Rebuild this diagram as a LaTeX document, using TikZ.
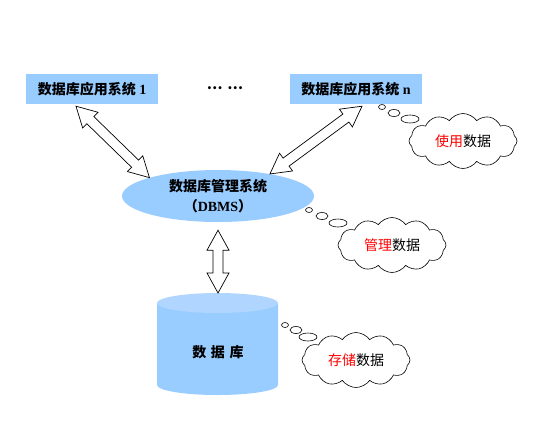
\documentclass[tikz,border=0pt]{standalone}
\usepackage{fontspec}
\setmainfont{Liberation Serif}
\newfontfamily\cjk{Noto Sans CJK SC}
\usetikzlibrary{shapes,shapes.geometric,shapes.symbols,positioning,calc}
\definecolor{boxblue}{RGB}{153,204,255}
\definecolor{dbtopblue}{RGB}{176,214,255}

% hollow double-headed arrow between two points
\newcommand{\hollowarrow}[2]{%
  \draw[harrow] (#1) -- ($(#1)!20pt!(#2)!11pt!90:(#2)$) -- ($(#1)!20pt!(#2)!5pt!90:(#2)$)
    -- ($(#2)!20pt!(#1)!5pt!-90:(#1)$) -- ($(#2)!20pt!(#1)!11pt!-90:(#1)$) -- (#2)
    -- ($(#2)!20pt!(#1)!11pt!90:(#1)$) -- ($(#2)!20pt!(#1)!5pt!90:(#1)$)
    -- ($(#1)!20pt!(#2)!5pt!-90:(#2)$) -- ($(#1)!20pt!(#2)!11pt!-90:(#2)$) -- cycle;}

\begin{document}
\begin{tikzpicture}[
    x=1pt, y=1pt,
    every node/.style={font=\fontsize{14}{16}\selectfont},
    appbox/.style={rectangle, fill=boxblue, minimum width=132pt, minimum height=30pt, inner sep=0pt},
    harrow/.style={draw=black, fill=white, line width=0.7pt, line join=miter},
    thought/.style={cloud, cloud puffs=12, cloud puff arc=110, draw, fill=white, line width=0.6pt, aspect=2, minimum width=108pt, minimum height=55pt, inner sep=0pt},
    bubble/.style={draw, fill=white, line width=0.6pt}
]
\useasboundingbox (0,0) rectangle (537,-445);

% application layer
\node[appbox] (app1) at (92,-89) {{\cjk\bfseries 数据库应用系统} \textbf{1}};
\node[appbox] (appn) at (356,-89) {{\cjk\bfseries 数据库应用系统} \textbf{n}};
\node (dots) at (225,-88) {\cjk\bfseries …\,\,…};

% DBMS
\node[ellipse, fill=boxblue, minimum width=192pt, minimum height=52pt, inner sep=0pt, align=center] (dbms) at (218,-196)
  {{\cjk\bfseries 数据库管理系统}\\[4pt]{\cjk\bfseries （}\textbf{DBMS}{\cjk\bfseries ）}};

% database cylinder
\fill[boxblue] (157,-303) -- (157,-385) arc[start angle=180, end angle=360, x radius=60.5, y radius=10] -- (278,-303) -- cycle;
\fill[dbtopblue] (217.5,-303) ellipse[x radius=60.5, y radius=10];
\node (db) at (218,-352) {\cjk\bfseries 数\,\,据\,\,库};
\coordinate (dbtop) at (218,-293);

% arrows
\coordinate (a1) at ($(app1.south)+(-16pt,-2pt)$);
\coordinate (an) at ($(appn.south)+(6pt,-2pt)$);
\coordinate (dbbot) at ($(dbms.south)+(0,-8pt)$);
\hollowarrow{a1}{dbms.165}
\hollowarrow{an}{dbms.23}
\hollowarrow{dbbot}{dbtop}

% thought clouds
\node[thought] (use) at (463,-141) {{\cjk\textcolor{red}{使用}数据}};
\draw[bubble] (382,-107) ellipse[x radius=3.5, y radius=2.5];
\draw[bubble] (394,-113) ellipse[x radius=6, y radius=3.5];
\draw[bubble] (410,-119) ellipse[x radius=9, y radius=4];

\node[thought] (mgmt) at (392,-245) {{\cjk\textcolor{red}{管理}数据}};
\draw[bubble] (309,-210) ellipse[x radius=3.5, y radius=2.5];
\draw[bubble] (322,-216) ellipse[x radius=6, y radius=3.5];
\draw[bubble] (338,-223) ellipse[x radius=9, y radius=4];

\node[thought] (store) at (356,-360) {{\cjk\textcolor{red}{存储}数据}};
\draw[bubble] (285,-325) ellipse[x radius=3.5, y radius=2.5];
\draw[bubble] (296,-330) ellipse[x radius=6, y radius=3.5];
\draw[bubble] (308,-337) ellipse[x radius=9, y radius=4];

\end{tikzpicture}
\end{document}
